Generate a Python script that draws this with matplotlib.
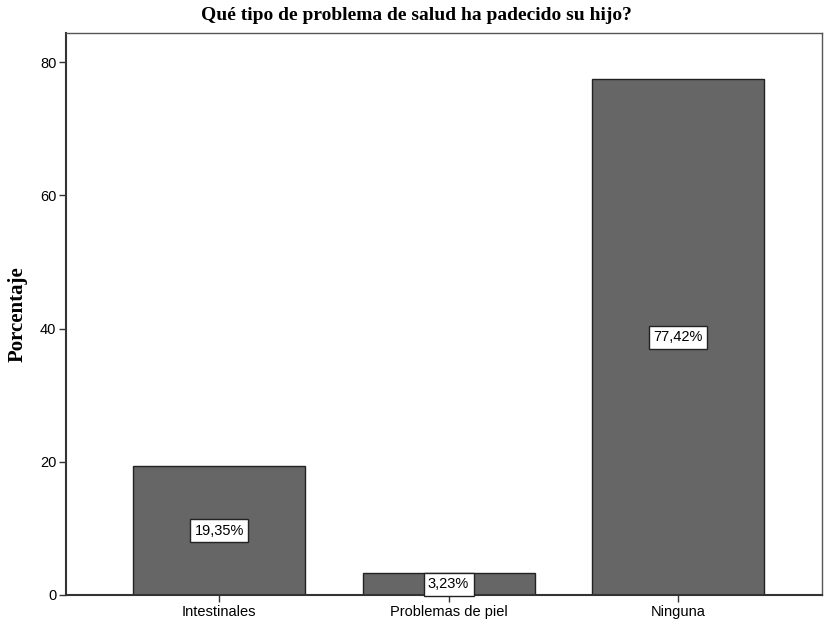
import matplotlib
matplotlib.use("Agg")
import matplotlib.pyplot as plt

categories = ["Intestinales", "Problemas de piel", "Ninguna"]
values = [19.35, 3.23, 77.42]
labels = ["19,35%", "3,23%", "77,42%"]
yticks = [0, 20, 40, 60, 80]

fig = plt.figure(figsize=(8.33, 6.26), dpi=100)
ax = fig.add_axes([66/833, 1-595/626, (822-66)/833, (595-33)/626])

x = list(range(len(categories)))
ax.bar(x, values, width=0.75, color="#666666", edgecolor="#222222", linewidth=1.0, zorder=2)
for xi, v, lab in zip(x, values, labels):
    ax.text(xi, v/2, lab, ha="center", va="center", fontsize=10.5, family="Liberation Sans",
            bbox=dict(boxstyle="square,pad=0.3", fc="white", ec="#222222", lw=1.0), zorder=3)

ax.set_xlim(-0.667, 2.627)
ax.set_ylim(0, 84.4)
ax.set_xticks(x)
ax.set_xticklabels(categories, fontsize=10.5, family="Liberation Sans")
ax.set_yticks(yticks)
ax.set_yticklabels([str(t) for t in yticks], fontsize=10.5, family="Liberation Sans")
ax.tick_params(axis="both", direction="out", length=5, width=1, color="#333333", pad=2)
for s in ax.spines.values():
    s.set_color("#555555")
    s.set_linewidth(1.0)
ax.spines["left"].set_linewidth(1.5)
ax.spines["bottom"].set_linewidth(1.5)
ax.spines["left"].set_color("#333333")
ax.spines["bottom"].set_color("#333333")

ax.set_ylabel("Porcentaje", fontsize=15, fontweight="bold", family="Liberation Serif", labelpad=9)
fig.text(0.5, 1-15/626, "Qué tipo de problema de salud ha padecido su hijo?",
         ha="center", va="center", fontsize=14, fontweight="bold", family="Liberation Serif")

fig.savefig("out.png", dpi=100)
